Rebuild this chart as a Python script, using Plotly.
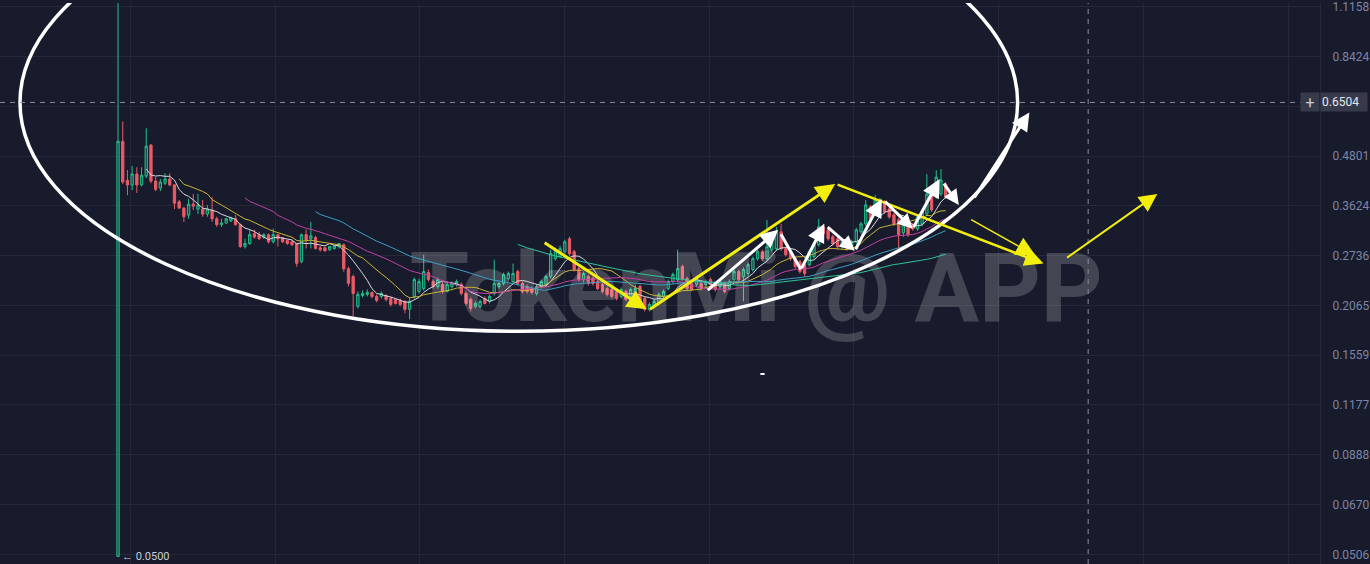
import numpy as np
import pandas as pd
import plotly.graph_objects as go

# candle data (one entry per candle, left to right)
OPEN = [0.0500, 0.522, 0.419, 0.408, 0.434, 0.408, 0.429, 0.511, 0.417, 0.401,
        0.412, 0.422, 0.408, 0.371, 0.358, 0.344, 0.366, 0.356, 0.356, 0.346,
        0.354, 0.337, 0.326, 0.329, 0.333, 0.337, 0.326, 0.288, 0.293, 0.310,
        0.308, 0.303, 0.308, 0.296, 0.308, 0.303, 0.298, 0.296, 0.293, 0.2645,
        0.308, 0.301, 0.303, 0.286, 0.286, 0.283, 0.285, 0.288, 0.291, 0.254,
        0.2431, 0.2054, 0.2185, 0.2198, 0.2223, 0.2173, 0.2173, 0.2185, 0.2149, 0.2137,
        0.2125, 0.2113, 0.2020, 0.2173, 0.2235, 0.2272, 0.2487, 0.2364, 0.2298, 0.2324,
        0.2235, 0.2298, 0.2324, 0.2324, 0.2210, 0.2137, 0.2054, 0.2054, 0.2149, 0.2113,
        0.2210, 0.2298, 0.2338, 0.2404, 0.2364, 0.2501, 0.2338, 0.2298, 0.2272, 0.2210,
        0.2298, 0.2324, 0.2431, 0.2690, 0.2721, 0.2798, 0.3010, 0.2798, 0.2543, 0.2390,
        0.2431, 0.2404, 0.2364, 0.2324, 0.2272, 0.2260, 0.2235, 0.2173, 0.2235, 0.2173,
        0.2210, 0.2298, 0.2149, 0.2020, 0.2054, 0.2089, 0.2173, 0.2272, 0.2364, 0.2390,
        0.2572, 0.2404, 0.2338, 0.2324, 0.2338, 0.2324, 0.2390, 0.2338, 0.2298, 0.2338,
        0.2272, 0.2390, 0.2501, 0.2431, 0.2473, 0.2529, 0.2690, 0.2798, 0.2690, 0.2830,
        0.2846, 0.3131, 0.2846, 0.2798, 0.2690, 0.2645, 0.2601, 0.2601, 0.2721, 0.2910,
        0.3220, 0.3166, 0.3044, 0.3010, 0.2878, 0.2960, 0.2878, 0.2960, 0.3131, 0.3275,
        0.3604, 0.3564, 0.3644, 0.3706, 0.3564, 0.3445, 0.3350, 0.3113, 0.3256, 0.3256,
        0.3184, 0.3275, 0.3465, 0.3877, 0.3812, 0.3877, 0.4101]
HIGH = [1.6000, 0.584, 0.444, 0.454, 0.451, 0.451, 0.562, 0.514, 0.427, 0.422,
        0.436, 0.436, 0.410, 0.375, 0.360, 0.377, 0.388, 0.388, 0.375, 0.364,
        0.381, 0.341, 0.337, 0.339, 0.341, 0.344, 0.328, 0.301, 0.317, 0.317,
        0.313, 0.311, 0.310, 0.319, 0.309, 0.304, 0.299, 0.298, 0.294, 0.310,
        0.317, 0.331, 0.306, 0.289, 0.288, 0.289, 0.291, 0.294, 0.293, 0.257,
        0.2459, 0.2235, 0.2248, 0.2260, 0.2235, 0.2198, 0.2235, 0.2198, 0.2173, 0.2149,
        0.2149, 0.2125, 0.2161, 0.2418, 0.2404, 0.2751, 0.2529, 0.2390, 0.2418, 0.2351,
        0.2364, 0.2364, 0.2390, 0.2351, 0.2235, 0.2161, 0.2113, 0.2137, 0.2173, 0.2198,
        0.2675, 0.2364, 0.2487, 0.2501, 0.2616, 0.2529, 0.2364, 0.2324, 0.2298, 0.2324,
        0.2390, 0.2459, 0.2830, 0.2862, 0.2894, 0.2993, 0.3044, 0.2830, 0.2572, 0.2501,
        0.2459, 0.2431, 0.2390, 0.2351, 0.2298, 0.2285, 0.2260, 0.2285, 0.2260, 0.2285,
        0.2311, 0.2324, 0.2173, 0.2101, 0.2137, 0.2223, 0.2260, 0.2390, 0.2487, 0.2830,
        0.2601, 0.2431, 0.2364, 0.2431, 0.2364, 0.2390, 0.2418, 0.2364, 0.2390, 0.2364,
        0.2390, 0.2529, 0.2529, 0.2558, 0.2630, 0.2721, 0.2830, 0.2830, 0.3349, 0.2993,
        0.3220, 0.3275, 0.2878, 0.2830, 0.2721, 0.2675, 0.2630, 0.2830, 0.2943, 0.3368,
        0.3275, 0.3202, 0.3078, 0.3044, 0.2993, 0.2993, 0.2993, 0.3202, 0.3312, 0.3748,
        0.3644, 0.3855, 0.3791, 0.3748, 0.3604, 0.3484, 0.3388, 0.3293, 0.3293, 0.3293,
        0.3445, 0.3543, 0.4338, 0.3920, 0.4437, 0.4462, 0.4147]
LOW = [0.0500, 0.410, 0.385, 0.396, 0.390, 0.405, 0.424, 0.412, 0.394, 0.394,
       0.408, 0.405, 0.356, 0.356, 0.331, 0.337, 0.354, 0.346, 0.341, 0.341,
       0.331, 0.322, 0.322, 0.328, 0.331, 0.324, 0.286, 0.285, 0.291, 0.301,
       0.299, 0.301, 0.293, 0.293, 0.288, 0.294, 0.291, 0.289, 0.257, 0.262,
       0.285, 0.285, 0.283, 0.280, 0.280, 0.281, 0.283, 0.285, 0.250, 0.230,
       0.1942, 0.2031, 0.2161, 0.2173, 0.2149, 0.2101, 0.2149, 0.2113, 0.2054, 0.2077,
       0.2054, 0.1975, 0.1909, 0.2149, 0.2210, 0.2248, 0.2364, 0.2272, 0.2272, 0.2210,
       0.2223, 0.2272, 0.2298, 0.2185, 0.2066, 0.1997, 0.2031, 0.2031, 0.2077, 0.2089,
       0.2185, 0.2272, 0.2311, 0.2377, 0.2338, 0.2311, 0.2210, 0.2210, 0.2198, 0.2185,
       0.2272, 0.2298, 0.2404, 0.2660, 0.2706, 0.2767, 0.2736, 0.2501, 0.2364, 0.2351,
       0.2311, 0.2311, 0.2248, 0.2210, 0.2173, 0.2149, 0.2125, 0.2149, 0.2113, 0.2149,
       0.2185, 0.2066, 0.1997, 0.1997, 0.2031, 0.2066, 0.2149, 0.2248, 0.2338, 0.2364,
       0.2377, 0.2248, 0.2235, 0.2298, 0.2248, 0.2298, 0.2298, 0.2235, 0.2272, 0.2210,
       0.2248, 0.2364, 0.2364, 0.2113, 0.2445, 0.2501, 0.2660, 0.2660, 0.2660, 0.2798,
       0.2814, 0.2814, 0.2721, 0.2660, 0.2543, 0.2473, 0.2431, 0.2572, 0.2690, 0.2878,
       0.3061, 0.2977, 0.2894, 0.2846, 0.2846, 0.2814, 0.2846, 0.2927, 0.3096, 0.3238,
       0.3331, 0.3524, 0.3604, 0.3465, 0.3369, 0.3238, 0.2798, 0.3044, 0.3044, 0.3149,
       0.3149, 0.3238, 0.3426, 0.3504, 0.3770, 0.3834, 0.3770]
CLOSE = [0.5222, 0.415, 0.408, 0.434, 0.408, 0.431, 0.508, 0.417, 0.398, 0.415,
         0.422, 0.408, 0.368, 0.358, 0.341, 0.366, 0.362, 0.364, 0.346, 0.356,
         0.337, 0.326, 0.329, 0.337, 0.339, 0.326, 0.288, 0.293, 0.308, 0.304,
         0.301, 0.308, 0.296, 0.308, 0.301, 0.296, 0.293, 0.291, 0.262, 0.308,
         0.299, 0.306, 0.285, 0.283, 0.281, 0.288, 0.289, 0.293, 0.254, 0.234,
         0.2210, 0.2198, 0.2210, 0.2223, 0.2173, 0.2125, 0.2210, 0.2137, 0.2077, 0.2089,
         0.2077, 0.2020, 0.2113, 0.2390, 0.2364, 0.2501, 0.2390, 0.2298, 0.2390, 0.2235,
         0.2324, 0.2338, 0.2364, 0.2210, 0.2089, 0.2031, 0.2089, 0.2113, 0.2089, 0.2173,
         0.2338, 0.2338, 0.2459, 0.2473, 0.2473, 0.2338, 0.2235, 0.2235, 0.2223, 0.2298,
         0.2364, 0.2431, 0.2767, 0.2830, 0.2846, 0.2960, 0.2767, 0.2529, 0.2390, 0.2473,
         0.2338, 0.2338, 0.2272, 0.2235, 0.2198, 0.2173, 0.2149, 0.2260, 0.2137, 0.2260,
         0.2272, 0.2089, 0.2020, 0.2077, 0.2113, 0.2198, 0.2235, 0.2364, 0.2459, 0.2543,
         0.2404, 0.2272, 0.2260, 0.2404, 0.2272, 0.2364, 0.2324, 0.2260, 0.2364, 0.2235,
         0.2364, 0.2501, 0.2390, 0.2529, 0.2601, 0.2690, 0.2798, 0.2690, 0.2878, 0.2960,
         0.3131, 0.2846, 0.2751, 0.2690, 0.2572, 0.2501, 0.2473, 0.2798, 0.2910, 0.3220,
         0.3096, 0.3010, 0.2927, 0.2878, 0.2960, 0.2846, 0.2960, 0.3166, 0.3275, 0.3644,
         0.3369, 0.3748, 0.3748, 0.3504, 0.3407, 0.3275, 0.3078, 0.3256, 0.3078, 0.3184,
         0.3407, 0.3504, 0.3877, 0.3543, 0.4265, 0.4195, 0.3812]
CANDLE_IDX = list(range(len(CLOSE)))

MA_WINDOWS = [7, 14, 28, 43, 86]
MA_COLOURS = ["#d6d7e0", "#c9b634", "#c23fa2", "#3b9fc6", "#2ec497"]

PRICE_TICKS = [1.1158, 0.8424, 0.636, 0.4801, 0.3624, 0.2736, 0.2065, 0.1559, 0.1177, 0.0888, 0.0670, 0.0506]
PRICE_LABELS = ["1.1158", "0.8424", "", "0.4801", "0.3624", "0.2736", "0.2065", "0.1559", "0.1177", "0.0888", "0.0670", "0.0506"]
TIME_GRID = [2.7, 33.5, 64.2, 95.0, 125.7, 156.5, 187.3, 218.0, 248.8]

CROSS_PRICE = 0.6504
CROSS_X = 206.3
LOW_PRICE = 0.0500

# hand drawn trend arrows: (x tail, price tail, x head, price head, colour, width, head size)
YEL = "#f4ee0c"
WHT = "#ffffff"
ARROWS = [
    (90.4, 0.2960, 112.4, 0.2020, YEL, 3, 1.3),
    (112.8, 0.2009, 152.5, 0.4101, YEL, 3, 1.3),
    (152.7, 0.4101, 196.8, 0.2616, YEL, 2.5, 1.5),
    (181.1, 0.3369, 195.1, 0.2736, YEL, 1.5, 2.6),
    (201.5, 0.2690, 221.0, 0.3877, YEL, 2, 1.8),
    (125.1, 0.2235, 140.4, 0.3166, WHT, 3, 1.2),
    (140.8, 0.3113, 145.2, 0.2529, WHT, 3, 0),
    (145.2, 0.2529, 150.2, 0.3275, WHT, 3, 1.2),
    (150.6, 0.3238, 156.7, 0.2814, WHT, 3, 1.0),
    (156.7, 0.2814, 162.4, 0.3770, WHT, 3, 1.2),
    (162.8, 0.3748, 169.0, 0.3184, WHT, 3, 1.0),
    (169.0, 0.3184, 174.7, 0.4218, WHT, 3, 1.2),
    (175.4, 0.4147, 178.8, 0.3644, WHT, 3, 1.0),
    (181.9, 0.3770, 193.8, 0.6146, WHT, 3, 1.2),
]
ELLIPSE_X = (-20.85, 191.3)
ELLIPSE_PRICE = (0.1785, 2.368)
STRAY_DASH = (136.6, 137.5, 0.1402)

BG = "#181b2b"
GRID = "#242838"
GREEN = "#22c08d"
RED = "#ec5a66"

fig = go.Figure()

# watermark sits under the candles
fig.add_trace(go.Scatter(
    x=[135.7], y=[0.2161], mode="text", text=["TokenMi @ APP"],
    textfont=dict(family="Roboto", size=96, color="rgba(255,255,255,0.19)", weight=700),
    hoverinfo="skip"
))

fig.add_trace(go.Candlestick(
    x=CANDLE_IDX, open=OPEN, high=HIGH, low=LOW, close=CLOSE,
    increasing=dict(line=dict(color=GREEN, width=1), fillcolor="rgba(34,192,141,0.28)"),
    decreasing=dict(line=dict(color=RED, width=1), fillcolor=RED),
    whiskerwidth=0
))

closes = pd.Series(CLOSE)
for w, c in zip(MA_WINDOWS, MA_COLOURS):
    fig.add_trace(go.Scatter(
        x=CANDLE_IDX, y=closes.rolling(w).mean(), mode="lines",
        line=dict(color=c, width=1), hoverinfo="skip"
    ))

# the big ellipse (shapes on a log axis take plain prices)
fig.add_shape(type="circle", xref="x", yref="y",
              x0=ELLIPSE_X[0], x1=ELLIPSE_X[1],
              y0=ELLIPSE_PRICE[0], y1=ELLIPSE_PRICE[1],
              line=dict(color="white", width=3.5))

# crosshair
fig.add_shape(type="line", xref="paper", yref="y", x0=0, x1=1,
              y0=CROSS_PRICE, y1=CROSS_PRICE,
              line=dict(color="#8a8e9e", width=1, dash="5px,5px"))
fig.add_shape(type="line", xref="x", yref="paper", x0=CROSS_X, x1=CROSS_X, y0=0, y1=1,
              line=dict(color="#8a8e9e", width=1, dash="5px,5px"))

# tiny stray dash
fig.add_shape(type="line", xref="x", yref="y", x0=STRAY_DASH[0], x1=STRAY_DASH[1],
              y0=STRAY_DASH[2], y1=STRAY_DASH[2],
              line=dict(color="white", width=2))

# annotations on a log axis want log10 positions
for xt, pt, xh, ph, col, wd, hs in ARROWS:
    fig.add_annotation(
        x=xh, y=np.log10(ph), ax=xt, ay=np.log10(pt),
        xref="x", yref="y", axref="x", ayref="y",
        text="", showarrow=True,
        arrowhead=2 if hs else 0, arrowsize=hs if hs else 1,
        arrowwidth=wd, arrowcolor=col, standoff=0
    )

fig.add_annotation(x=0, y=np.log10(LOW_PRICE), xref="x", yref="y",
                   text="← 0.0500", showarrow=False, xanchor="left", xshift=2,
                   font=dict(family="Roboto", size=11, color="#c9cdd9"))

fig.add_annotation(x=1, y=np.log10(CROSS_PRICE), xref="paper", yref="y",
                   text="0.6504", showarrow=False, xanchor="left", align="left",
                   bgcolor="#363a4b", width=44, height=16,
                   font=dict(family="Roboto", size=12, color="#e6e7ee"))
fig.add_annotation(x=1, y=np.log10(CROSS_PRICE), xref="paper", yref="y",
                   text="+", showarrow=False, xanchor="right",
                   bgcolor="#363a4b", width=16, height=16,
                   font=dict(family="Roboto", size=16, color="#c9ccd6"))

fig.update_layout(
    width=1370, height=564,
    margin=dict(l=0, r=47, t=0, b=0),
    paper_bgcolor=BG, plot_bgcolor=BG,
    showlegend=False,
    xaxis=dict(range=[-25.1, 255.6], tickvals=TIME_GRID, showticklabels=False,
               gridcolor=GRID, zeroline=False, rangeslider=dict(visible=False)),
    yaxis=dict(type="log", side="right", range=[-1.3196, 0.0572],
               tickvals=PRICE_TICKS, ticktext=PRICE_LABELS,
               gridcolor=GRID, zeroline=False,
               ticks="outside", ticklen=9, tickcolor=BG,
               showline=True, linecolor=GRID, ticklabeloverflow="allow",
               tickfont=dict(family="Roboto", size=12, color="#7d85a8"))
)

fig.write_html("out.html", config={"displayModeBar": False},
               post_script="document.body.style.margin='0';document.body.style.overflow='hidden';")
